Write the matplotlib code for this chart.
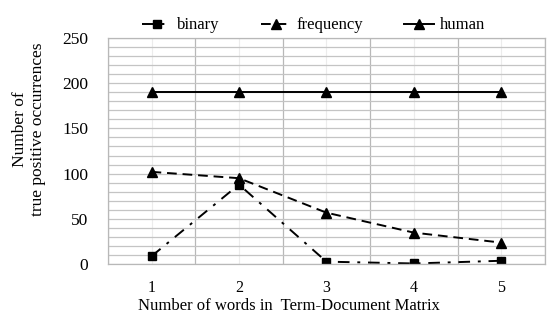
import matplotlib
matplotlib.use("Agg")
import matplotlib.pyplot as plt
from matplotlib.ticker import MultipleLocator

# data
words = [1, 2, 3, 4, 5]
binary = [9, 88, 3, 1, 4]
frequency = [102, 95, 57, 35, 24]
human = [190, 190, 190, 190, 190]

plt.rcParams["font.family"] = ["Liberation Serif", "DejaVu Serif"]
plt.rcParams["font.size"] = 12.5

fig = plt.figure(figsize=(5.5, 3.24), dpi=100)
ax = fig.add_axes([0.196, 0.184, 0.795, 0.700])

ax.plot(words, binary, color="black", lw=1.4, ls=(0, (6, 4, 1.5, 4)),
        marker="s", ms=6, label="binary")
ax.plot(words, frequency, color="black", lw=1.4, ls=(0, (5, 3)),
        marker="^", ms=7, label="frequency")
ax.plot(words, human, color="black", lw=1.4, ls="-",
        marker="^", ms=7, label="human")

ax.set_xlim(0.5, 5.5)
ax.set_ylim(0, 250)
ax.set_xticks(words)
ax.set_yticks(range(0, 251, 50))
ax.yaxis.set_minor_locator(MultipleLocator(10))
ax.xaxis.set_minor_locator(MultipleLocator(1, offset=0.5))
ax.grid(which="minor", axis="y", color="#c4c4c4", lw=0.9)
ax.grid(which="major", axis="y", color="#c4c4c4", lw=0.9)
ax.grid(which="minor", axis="x", color="#b8b8b8", lw=0.9)
ax.grid(which="major", axis="x", color="#ececec", lw=0.8)
ax.set_axisbelow(True)
ax.tick_params(which="both", length=0, labelsize=12.5)
ax.tick_params(axis="x", pad=11.5, labelsize=11.5)
ax.tick_params(axis="y", pad=14)
for s in ax.spines.values():
    s.set_color("#b8b8b8")
    s.set_linewidth(0.9)

ax.set_xlabel("Number of words in  Term-Document Matrix", fontsize=12)
ax.xaxis.set_label_coords(0.415, -0.202)
ax.xaxis.label.set_va("baseline")
ax.set_ylabel("Number of\ntrue positive occurrences", labelpad=12,
              linespacing=1.15)
ax.yaxis.label.set_y(0.595)

ax.legend(loc="lower center", bbox_to_anchor=(0.47, 0.985), ncol=3, frameon=False,
          handlelength=1.8, handletextpad=0.3, columnspacing=2.5,
          fontsize=12, borderaxespad=0.05)

fig.savefig("out.png", dpi=100)
